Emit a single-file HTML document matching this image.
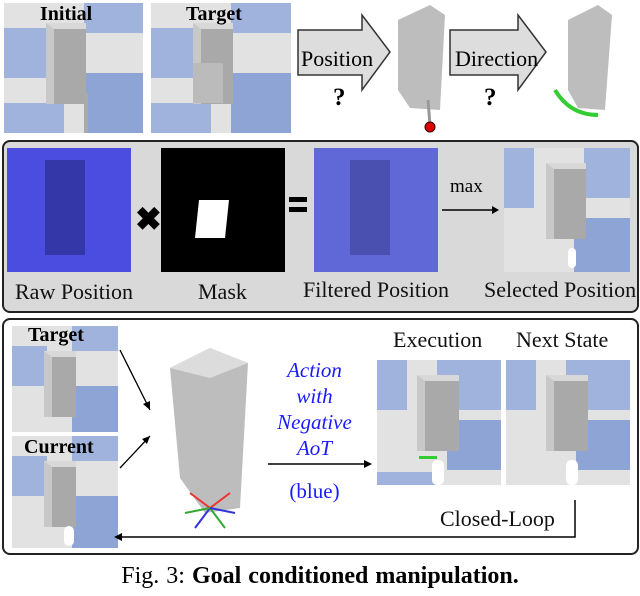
<!DOCTYPE html>
<html><head><style>
body{margin:0;width:640px;height:596px;background:#fff;position:relative;overflow:hidden;font-family:"Liberation Serif",serif;}
.a{position:absolute;}
.sc{position:absolute;overflow:hidden;background:#e2e2e2;}
.sc .b1{position:absolute;background:#9fb3dc;}
.fr{position:absolute;background:#a9a9a9;border-left:8px solid #c8c8c8;border-top:6px solid #d8d8d8;}
.lbl{position:absolute;font-size:22px;color:#111;white-space:nowrap;}
.box{position:absolute;border:2px solid #222;border-radius:8px;}
</style></head><body>

<div class="sc" style="left:4px;top:3px;width:139px;height:130px">
<div class="b1" style="left:0;top:25px;width:45px;height:50px"></div>
<div class="b1" style="left:80px;top:0;width:59px;height:30px"></div>
<div class="b1" style="left:0;top:100px;width:60px;height:30px"></div>
<div class="b1" style="left:80px;top:70px;width:59px;height:60px;background:#8ea4d4"></div>
<div class="fr" style="left:42px;top:20px;width:32px;height:75px"></div>
<div class="a" style="left:80px;top:90px;width:4px;height:40px;background:#aaa"></div>
</div>
<div class="a" style="left:40px;top:3px;font-weight:bold;font-size:20px">Initial</div>
<div class="sc" style="left:151px;top:3px;width:140px;height:130px">
<div class="b1" style="left:0;top:25px;width:45px;height:50px"></div>
<div class="b1" style="left:80px;top:0;width:60px;height:30px"></div>
<div class="b1" style="left:0;top:100px;width:60px;height:30px"></div>
<div class="b1" style="left:80px;top:70px;width:60px;height:60px;background:#8ea4d4"></div>
<div class="fr" style="left:42px;top:20px;width:32px;height:75px"></div>
<div class="a" style="left:42px;top:60px;width:30px;height:40px;background:#bbb"></div>
</div>
<div class="a" style="left:186px;top:3px;font-weight:bold;font-size:20px">Target</div>

<svg class="a" style="left:0;top:0" width="640" height="140">
<polygon points="298,30 362,30 362,15 390,52 362,90 362,75 298,75" fill="#ddd" stroke="#333" stroke-width="1.5"/>
<polygon points="450,30 518,30 518,15 546,52 518,90 518,75 450,75" fill="#ddd" stroke="#333" stroke-width="1.5"/>
<polygon points="398,20 430,5 445,15 440,110 410,108 398,90" fill="#bdbdbd"/>
<line x1="428" y1="100" x2="430" y2="125" stroke="#999" stroke-width="3"/>
<circle cx="430" cy="127" r="5" fill="#d00" stroke="#300"/>
<polygon points="568,20 598,5 612,15 605,110 578,108 568,90" fill="#bdbdbd"/>
<path d="M555,90 Q570,115 598,115" stroke="#3c3" stroke-width="4" fill="none"/>
</svg>
<div class="a" style="left:301px;top:46px;font-size:22px">Position</div>
<div class="a" style="left:455px;top:46px;font-size:22px">Direction</div>
<div class="a" style="left:333px;top:84px;font-size:25px;font-weight:bold">?</div>
<div class="a" style="left:484px;top:84px;font-size:25px;font-weight:bold">?</div>

<div class="box" style="left:2px;top:140px;width:633px;height:169px;background:#d9d9d9"></div>
<div class="a" style="left:7px;top:148px;width:124px;height:124px;background:#4a4de0"></div>
<div class="a" style="left:45px;top:160px;width:40px;height:95px;background:#3437a8"></div>
<div class="a" style="left:135px;top:200px;font-size:32px;font-weight:bold">✖</div>
<div class="a" style="left:161px;top:148px;width:124px;height:124px;background:#000"></div>
<div class="a" style="left:197px;top:200px;width:30px;height:38px;background:#fff;transform:skewX(-6deg)"></div>
<div class="a" style="left:289px;top:197px;width:18px;height:5px;background:#000"></div>
<div class="a" style="left:289px;top:207px;width:18px;height:5px;background:#000"></div>
<div class="a" style="left:314px;top:148px;width:124px;height:124px;background:#6068d8"></div>
<div class="a" style="left:350px;top:160px;width:40px;height:95px;background:#4a50b0"></div>
<svg class="a" style="left:440px;top:200px" width="60" height="20"><line x1="2" y1="10" x2="52" y2="10" stroke="#000" stroke-width="1.5"/><polygon points="52,6 59,10 52,14" fill="#000"/></svg>
<div class="a" style="left:450px;top:176px;font-size:19px">max</div>
<div class="sc" style="left:504px;top:148px;width:126px;height:124px">
<div class="b1" style="left:0;top:0;width:30px;height:60px"></div>
<div class="b1" style="left:80px;top:0;width:46px;height:50px"></div>
<div class="b1" style="left:70px;top:70px;width:56px;height:54px;background:#8ea4d4"></div>
<div class="fr" style="left:42px;top:15px;width:32px;height:70px"></div>
<div class="a" style="left:64px;top:100px;width:8px;height:20px;background:#fff;border-radius:4px"></div>
</div>
<div class="lbl" style="left:15px;top:279px">Raw Position</div>
<div class="lbl" style="left:198px;top:279px">Mask</div>
<div class="lbl" style="left:303px;top:277px">Filtered Position</div>
<div class="lbl" style="left:484px;top:277px">Selected Position</div>

<div class="box" style="left:2px;top:318px;width:633px;height:233px;background:#fff"></div>
<div class="sc" style="left:12px;top:326px;width:106px;height:106px">
<div class="b1" style="left:0;top:20px;width:35px;height:40px"></div>
<div class="b1" style="left:60px;top:0;width:46px;height:25px"></div>
<div class="b1" style="left:60px;top:60px;width:46px;height:46px;background:#8ea4d4"></div>
<div class="fr" style="left:32px;top:25px;width:24px;height:60px"></div>
</div>
<div class="a" style="left:28px;top:324px;font-weight:bold;font-size:20px">Target</div>
<div class="sc" style="left:12px;top:436px;width:106px;height:112px">
<div class="b1" style="left:0;top:20px;width:35px;height:40px"></div>
<div class="b1" style="left:60px;top:0;width:46px;height:25px"></div>
<div class="b1" style="left:60px;top:60px;width:46px;height:52px;background:#8ea4d4"></div>
<div class="fr" style="left:32px;top:25px;width:24px;height:60px"></div>
<div class="a" style="left:52px;top:90px;width:10px;height:20px;background:#fff;border-radius:5px"></div>
</div>
<div class="a" style="left:24px;top:436px;font-weight:bold;font-size:20px">Current</div>
<svg class="a" style="left:0;top:318px" width="640" height="240">
<line x1="120" y1="32" x2="150" y2="92" stroke="#000" stroke-width="1.3"/>
<polygon points="150,92 143,86 150,83" fill="#000"/>
<line x1="120" y1="150" x2="150" y2="118" stroke="#000" stroke-width="1.3"/>
<polygon points="150,118 142,121 147,126" fill="#000"/>
<polygon points="170,50 210,30 248,45 240,190 205,195 180,160" fill="#bdbdbd"/>
<polygon points="170,50 210,30 248,45 210,60" fill="#dcdcdc"/>
<g stroke-width="2"><line x1="210" y1="190" x2="190" y2="175" stroke="#e33"/><line x1="210" y1="190" x2="230" y2="175" stroke="#e33"/><line x1="210" y1="190" x2="195" y2="210" stroke="#33d"/><line x1="210" y1="190" x2="225" y2="210" stroke="#3a3"/><line x1="210" y1="190" x2="185" y2="195" stroke="#3a3"/><line x1="210" y1="190" x2="235" y2="195" stroke="#33d"/></g>
<line x1="268" y1="146" x2="364" y2="146" stroke="#000" stroke-width="1.5"/>
<polygon points="364,142 372,146 364,150" fill="#000"/>
<polyline points="575,182 575,219 122,219" fill="none" stroke="#000" stroke-width="1.5"/>
<polygon points="122,215 114,219 122,223" fill="#000"/>
</svg>
<div class="a" style="left:257px;top:357px;width:115px;text-align:center;color:#1a1aff;font-style:italic;font-size:21px;line-height:26px">Action<br>with<br>Negative<br>AoT</div>
<div class="a" style="left:257px;top:479px;width:115px;text-align:center;color:#1a1aff;font-size:21px">(blue)</div>
<div class="lbl" style="left:393px;top:327px">Execution</div>
<div class="lbl" style="left:516px;top:327px">Next State</div>
<div class="sc" style="left:377px;top:360px;width:124px;height:125px">
<div class="b1" style="left:0;top:0;width:30px;height:50px"></div>
<div class="b1" style="left:60px;top:0;width:64px;height:50px"></div>
<div class="b1" style="left:70px;top:60px;width:54px;height:50px;background:#8ea4d4"></div>
<div class="b1" style="left:0;top:112px;width:60px;height:13px"></div>
<div class="fr" style="left:40px;top:15px;width:34px;height:70px"></div>
<div class="a" style="left:55px;top:100px;width:12px;height:25px;background:#fff;border-radius:5px"></div>
<div class="a" style="left:42px;top:96px;width:18px;height:3px;background:#3c3"></div>
</div>
<div class="sc" style="left:506px;top:360px;width:124px;height:125px">
<div class="b1" style="left:0;top:0;width:30px;height:50px"></div>
<div class="b1" style="left:60px;top:0;width:64px;height:50px"></div>
<div class="b1" style="left:70px;top:60px;width:54px;height:50px;background:#8ea4d4"></div>
<div class="fr" style="left:40px;top:15px;width:34px;height:70px"></div>
<div class="a" style="left:60px;top:100px;width:12px;height:25px;background:#fff;border-radius:5px"></div>
</div>
<div class="lbl" style="left:440px;top:506px">Closed-Loop</div>

<div class="a" style="left:0;top:563px;width:640px;text-align:center;font-size:24px;word-spacing:1px">Fig. 3: <b>Goal conditioned manipulation.</b></div>
</body></html>
